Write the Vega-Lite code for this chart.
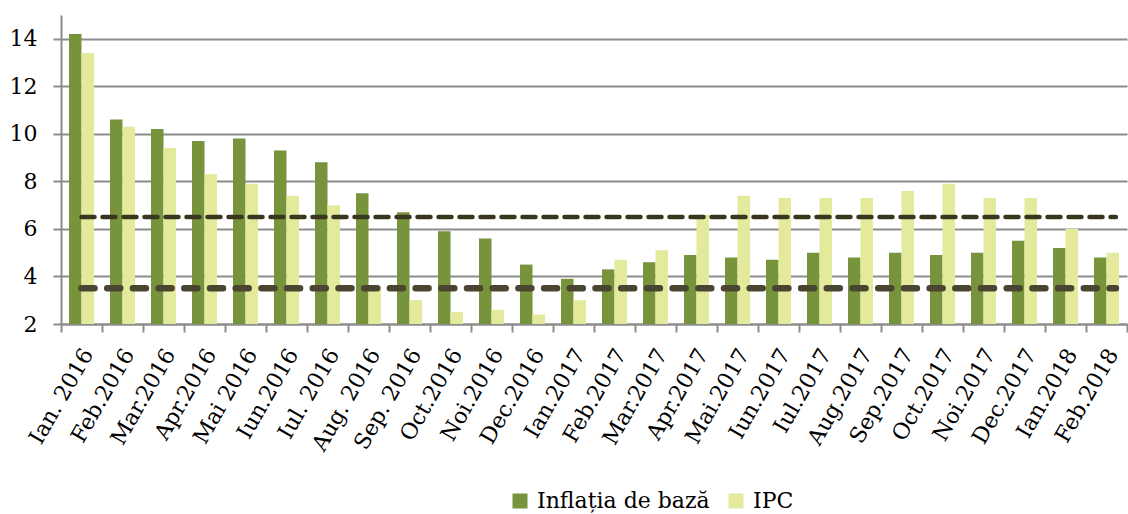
{
  "$schema": "https://vega.github.io/schema/vega-lite/v6.json",
  "width": 1066,
  "height": 309,
  "autosize": {"type": "none"},
  "padding": {"left": 61, "top": 15, "right": 1, "bottom": 190},
  "background": "white",
  "config": {"view": {"stroke": null}, "font": "DejaVu Serif"},
  "data": {
    "values": [
      {"luna": "Ian. 2016", "Inflația de bază": 14.2, "IPC": 13.4},
      {"luna": "Feb.2016", "Inflația de bază": 10.6, "IPC": 10.3},
      {"luna": "Mar.2016", "Inflația de bază": 10.2, "IPC": 9.4},
      {"luna": "Apr.2016", "Inflația de bază": 9.7, "IPC": 8.3},
      {"luna": "Mai 2016", "Inflația de bază": 9.8, "IPC": 7.9},
      {"luna": "Iun.2016", "Inflația de bază": 9.3, "IPC": 7.4},
      {"luna": "Iul. 2016", "Inflația de bază": 8.8, "IPC": 7.0},
      {"luna": "Aug. 2016", "Inflația de bază": 7.5, "IPC": 3.6},
      {"luna": "Sep. 2016", "Inflația de bază": 6.7, "IPC": 3.0},
      {"luna": "Oct.2016", "Inflația de bază": 5.9, "IPC": 2.5},
      {"luna": "Noi.2016", "Inflația de bază": 5.6, "IPC": 2.6},
      {"luna": "Dec.2016", "Inflația de bază": 4.5, "IPC": 2.4},
      {"luna": "Ian.2017", "Inflația de bază": 3.9, "IPC": 3.0},
      {"luna": "Feb.2017", "Inflația de bază": 4.3, "IPC": 4.7},
      {"luna": "Mar.2017", "Inflația de bază": 4.6, "IPC": 5.1},
      {"luna": "Apr.2017", "Inflația de bază": 4.9, "IPC": 6.6},
      {"luna": "Mai.2017", "Inflația de bază": 4.8, "IPC": 7.4},
      {"luna": "Iun.2017", "Inflația de bază": 4.7, "IPC": 7.3},
      {"luna": "Iul.2017", "Inflația de bază": 5.0, "IPC": 7.3},
      {"luna": "Aug.2017", "Inflația de bază": 4.8, "IPC": 7.3},
      {"luna": "Sep.2017", "Inflația de bază": 5.0, "IPC": 7.6},
      {"luna": "Oct.2017", "Inflația de bază": 4.9, "IPC": 7.9},
      {"luna": "Noi.2017", "Inflația de bază": 5.0, "IPC": 7.3},
      {"luna": "Dec.2017", "Inflația de bază": 5.5, "IPC": 7.3},
      {"luna": "Ian.2018", "Inflația de bază": 5.2, "IPC": 6.0},
      {"luna": "Feb.2018", "Inflația de bază": 4.8, "IPC": 5.0}
    ]
  },
  "layer": [
    {
      "transform": [{"fold": ["Inflația de bază", "IPC"], "as": ["serie", "valoare"]}],
      "mark": {"type": "bar"},
      "encoding": {
        "x": {
          "field": "luna", "type": "nominal", "sort": null,
          "scale": {"paddingInner": 0, "paddingOuter": 0},
          "axis": {
            "title": null, "labelAngle": -60, "labelFontSize": 22, "labelFont": "DejaVu Serif",
            "labelColor": "#000000", "labelPadding": 18, "labelOffset": 6, "tickBand": "extent",
            "tickSize": 8, "tickColor": "#8c8c8c", "tickWidth": 2,
            "domainColor": "#8c8c8c", "domainWidth": 2
          }
        },
        "xOffset": {"field": "serie", "type": "nominal", "sort": ["Inflația de bază", "IPC"], "scale": {"paddingInner": 0, "paddingOuter": 0.64}},
        "y": {
          "field": "valoare", "type": "quantitative",
          "scale": {"domain": [2, 15], "nice": false, "zero": false},
          "axis": {
            "title": null, "values": [2, 4, 6, 8, 10, 12, 14], "grid": true,
            "gridColor": "#8c8c8c", "gridWidth": 2, "domainColor": "#8c8c8c", "domainWidth": 2,
            "tickColor": "#8c8c8c", "tickSize": 8, "tickWidth": 2,
            "labelFontSize": 22, "labelFont": "DejaVu Serif", "labelColor": "#000000", "labelPadding": 16
          }
        },
        "y2": {"datum": 2},
        "color": {
          "field": "serie", "type": "nominal",
          "scale": {"domain": ["Inflația de bază", "IPC"], "range": ["#77933c", "#e3ea9b"]},
          "legend": {
            "orient": "none", "legendX": 448, "legendY": 475, "direction": "horizontal",
            "title": null, "symbolType": "square", "symbolSize": 225, "symbolStrokeWidth": 0,
            "labelFontSize": 22, "labelFont": "DejaVu Serif", "labelColor": "#000000", "labelLimit": 0,
            "columnPadding": 15, "labelOffset": 6
          }
        }
      }
    },
    {
      "data": {"values": [{"tinta": "sus"}]},
      "mark": {"type": "rule", "color": "#38361f", "strokeWidth": 4.5, "strokeDash": [13, 8], "strokeCap": "round"},
      "encoding": {
        "x": {"datum": "Ian. 2016", "bandPosition": 0.5},
        "x2": {"datum": "Feb.2018", "bandPosition": 0.73},
        "y": {"datum": 6.5}
      }
    },
    {
      "data": {"values": [{"tinta": "jos"}]},
      "mark": {"type": "rule", "color": "#4a4530", "strokeWidth": 6.5, "strokeDash": [13, 12.7], "strokeCap": "round"},
      "encoding": {
        "x": {"datum": "Ian. 2016", "bandPosition": 0.5},
        "x2": {"datum": "Feb.2018", "bandPosition": 0.73},
        "y": {"datum": 3.5}
      }
    }
  ]
}
